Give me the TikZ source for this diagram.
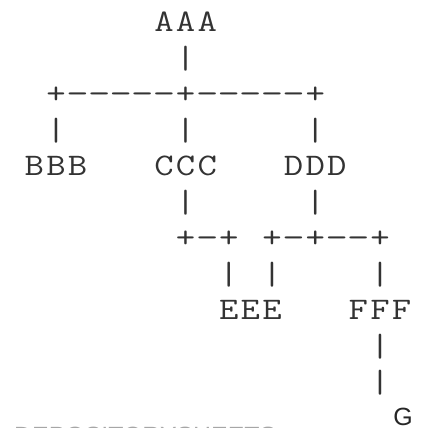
\documentclass[tikz,border=0pt]{standalone}
\usepackage{fontspec}
\newfontfamily\gfont{Liberation Sans}
\newcommand\cwd{21.6}
\newcommand\xorg{12.8}
\newcommand\lhgt{36}
\newcommand\yorg{31}
\newcommand\dsh{\scalebox{1.15}[1]{-}}
\newcommand\vbr{\raisebox{-4bp}{\resizebox*{!}{25bp}{\raisebox{\depth}{|}}}}
\tikzset{
  glyph/.style={inner sep=0pt, anchor=base, text=black!80,
    font=\fontsize{31.5}{31.5}\ttfamily},
  gfnt/.style={inner sep=0pt, anchor=base, text=black!85,
    font=\gfont\fontsize{25}{25}\selectfont},
  cut/.style={inner sep=0pt, anchor=base west, text=black!35,
    font=\gfont\fontsize{25}{25}\selectfont}
}
\newcommand\asciirun[4]{%
  \foreach \ch [count=\i from 0] in {#4}{%
    \node[glyph] (#1-\i) at ({\xorg+(#3+\i)*\cwd},{\yorg+#2*\lhgt}) {\scalebox{1.2}[1]{\ch}};}}
\begin{document}
\begin{tikzpicture}[x=1bp,y=-1bp]
\useasboundingbox (0,0) rectangle (421,428);
% row 0
\asciirun{AAA}{0}{7}{A,A,A}
% row 1
\asciirun{v1}{1}{8}{\vbr}
% row 2
\asciirun{h1}{2}{2}{+,\dsh,\dsh,\dsh,\dsh,\dsh,+,\dsh,\dsh,\dsh,\dsh,\dsh,+}
% row 3
\asciirun{v2a}{3}{2}{\vbr}
\asciirun{v2b}{3}{8}{\vbr}
\asciirun{v2c}{3}{14}{\vbr}
% row 4
\asciirun{BBB}{4}{1}{B,B,B}
\asciirun{CCC}{4}{7}{C,C,C}
\asciirun{DDD}{4}{13}{D,D,D}
% row 5
\asciirun{v3a}{5}{8}{\vbr}
\asciirun{v3b}{5}{14}{\vbr}
% row 6
\asciirun{h2a}{6}{8}{+,\dsh,+}
\asciirun{h2b}{6}{12}{+,\dsh,+,\dsh,\dsh,+}
% row 7
\asciirun{v4a}{7}{10}{\vbr}
\asciirun{v4b}{7}{12}{\vbr}
\asciirun{v4c}{7}{17}{\vbr}
% row 8
\asciirun{EEE}{8}{10}{E,E,E}
\asciirun{FFF}{8}{16}{F,F,F}
% rows 9, 10
\asciirun{v5a}{9}{17}{\vbr}
\asciirun{v5b}{10}{17}{\vbr}
% G
\node[gfnt] (G) at (403,425) {G};
% cut-off line at the bottom edge
\begin{scope}
  \clip (0,425) rectangle (421,428);
  \node[cut] (cutline) at (14,444) {DEPOSITORYSHEETS};
\end{scope}
\end{tikzpicture}
\end{document}
